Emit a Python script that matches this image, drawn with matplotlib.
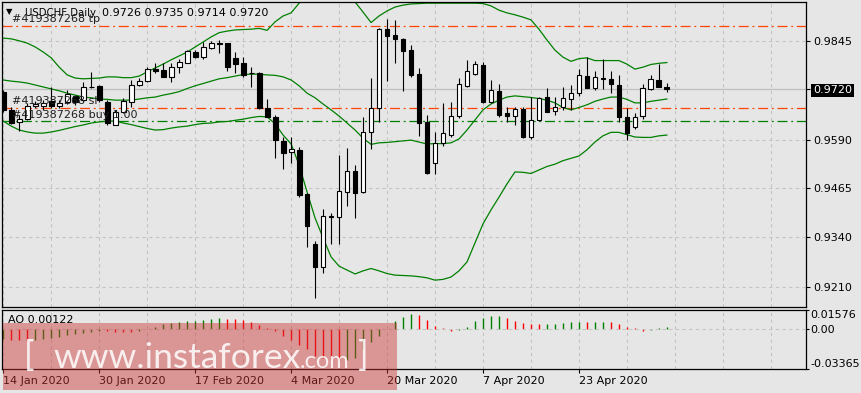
import numpy as np
import matplotlib

matplotlib.use("Agg")
import matplotlib.pyplot as plt
from matplotlib.patches import Rectangle

# USDCHF daily candles, 14 Jan 2020 .. 8 May 2020 (one value per bar)
opens = [0.9713, 0.9667, 0.9636, 0.9643, 0.9677, 0.9677, 0.9691, 0.9676, 0.9686, 0.9703,
         0.9692, 0.9725, 0.9729, 0.9688, 0.9629, 0.9661, 0.9688, 0.9731, 0.9741, 0.9772,
         0.9770, 0.9752, 0.9777, 0.9789, 0.9817, 0.9803, 0.9826, 0.9839, 0.9839, 0.9800,
         0.9789, 0.9763, 0.9763, 0.9671, 0.9648, 0.9587, 0.9558, 0.9564, 0.9450, 0.9321,
         0.9263, 0.9392, 0.9390, 0.9456, 0.9509, 0.9456, 0.9609, 0.9671, 0.9875, 0.9860,
         0.9849, 0.9821, 0.9759, 0.9636, 0.9531, 0.9581, 0.9602, 0.9651, 0.9729, 0.9759,
         0.9783, 0.9688, 0.9716, 0.9658, 0.9652, 0.9669, 0.9598, 0.9641, 0.9699, 0.9665,
         0.9674, 0.9694, 0.9711, 0.9754, 0.9723, 0.9748, 0.9746, 0.9731, 0.9648, 0.9622,
         0.9652, 0.9722, 0.9744, 0.9726]
highs = [0.9718, 0.9674, 0.9654, 0.9685, 0.9690, 0.9692, 0.9726, 0.9692, 0.9718, 0.9705,
         0.9740, 0.9765, 0.9731, 0.9692, 0.9667, 0.9698, 0.9744, 0.9748, 0.9778, 0.9787,
         0.9787, 0.9787, 0.9797, 0.9821, 0.9821, 0.9841, 0.9845, 0.9847, 0.9840, 0.9817,
         0.9804, 0.9778, 0.9765, 0.9694, 0.9654, 0.9598, 0.9598, 0.9572, 0.9453, 0.9330,
         0.9411, 0.9400, 0.9551, 0.9568, 0.9525, 0.9649, 0.9748, 0.9877, 0.9900, 0.9899,
         0.9851, 0.9834, 0.9774, 0.9654, 0.9611, 0.9684, 0.9688, 0.9748, 0.9796, 0.9794,
         0.9791, 0.9744, 0.9734, 0.9675, 0.9675, 0.9675, 0.9701, 0.9699, 0.9723, 0.9699,
         0.9725, 0.9731, 0.9772, 0.9804, 0.9767, 0.9797, 0.9767, 0.9757, 0.9673, 0.9660,
         0.9733, 0.9757, 0.9785, 0.9735]
lows = [0.9661, 0.9631, 0.9613, 0.9641, 0.9672, 0.9667, 0.9672, 0.9672, 0.9683, 0.9680,
        0.9688, 0.9723, 0.9687, 0.9628, 0.9627, 0.9658, 0.9675, 0.9729, 0.9740, 0.9761,
        0.9751, 0.9740, 0.9761, 0.9787, 0.9800, 0.9797, 0.9823, 0.9814, 0.9768, 0.9763,
        0.9751, 0.9725, 0.9670, 0.9648, 0.9542, 0.9514, 0.9531, 0.9442, 0.9314, 0.9181,
        0.9247, 0.9321, 0.9320, 0.9420, 0.9389, 0.9453, 0.9565, 0.9636, 0.9742, 0.9789,
        0.9716, 0.9751, 0.9600, 0.9502, 0.9501, 0.9575, 0.9598, 0.9645, 0.9725, 0.9757,
        0.9684, 0.9685, 0.9648, 0.9636, 0.9628, 0.9594, 0.9591, 0.9639, 0.9661, 0.9654,
        0.9667, 0.9667, 0.9704, 0.9723, 0.9718, 0.9720, 0.9711, 0.9636, 0.9589, 0.9617,
        0.9643, 0.9718, 0.9725, 0.9714]
closes = [0.9667, 0.9634, 0.9643, 0.9677, 0.9682, 0.9685, 0.9676, 0.9684, 0.9707, 0.9688,
          0.9725, 0.9727, 0.9692, 0.9633, 0.9661, 0.9689, 0.9731, 0.9741, 0.9772, 0.9768,
          0.9752, 0.9777, 0.9791, 0.9819, 0.9803, 0.9828, 0.9839, 0.9838, 0.9778, 0.9784,
          0.9757, 0.9762, 0.9671, 0.9649, 0.9589, 0.9557, 0.9565, 0.9448, 0.9368, 0.9263,
          0.9393, 0.9393, 0.9458, 0.9510, 0.9453, 0.9609, 0.9671, 0.9875, 0.9858, 0.9849,
          0.9820, 0.9757, 0.9634, 0.9503, 0.9581, 0.9607, 0.9650, 0.9733, 0.9767, 0.9785,
          0.9688, 0.9718, 0.9654, 0.9652, 0.9668, 0.9598, 0.9641, 0.9697, 0.9662, 0.9674,
          0.9697, 0.9710, 0.9757, 0.9724, 0.9751, 0.9746, 0.9733, 0.9649, 0.9608, 0.9649,
          0.9723, 0.9746, 0.9727, 0.9720]

# Bollinger bands as shown on the chart
bb_upper = [0.9852, 0.9850, 0.9845, 0.9839, 0.9829, 0.9816, 0.9801, 0.9777, 0.9757, 0.9749,
            0.9747, 0.9748, 0.9749, 0.9752, 0.9752, 0.9750, 0.9750, 0.9754, 0.9765, 0.9775,
            0.9785, 0.9796, 0.9806, 0.9816, 0.9829, 0.9842, 0.9855, 0.9866, 0.9870, 0.9873,
            0.9874, 0.9875, 0.9877, 0.9872, 0.9894, 0.9909, 0.9917, 0.9942, 0.9958, 0.9972,
            0.9983, 0.9988, 0.9982, 0.9962, 0.9945, 0.9919, 0.9892, 0.9909, 0.9922, 0.9932,
            0.9937, 0.9940, 0.9941, 0.9942, 0.9942, 0.9942, 0.9942, 0.9942, 0.9942, 0.9942,
            0.9941, 0.9935, 0.9924, 0.9917, 0.9912, 0.9906, 0.9899, 0.9875, 0.9847, 0.9821,
            0.9803, 0.9792, 0.9799, 0.9801, 0.9794, 0.9794, 0.9794, 0.9794, 0.9785, 0.9772,
            0.9777, 0.9784, 0.9787, 0.9789]
bb_middle = [0.9744, 0.9741, 0.9739, 0.9736, 0.9731, 0.9726, 0.9721, 0.9716, 0.9710, 0.9705,
             0.9700, 0.9698, 0.9695, 0.9694, 0.9692, 0.9692, 0.9692, 0.9695, 0.9698, 0.9700,
             0.9705, 0.9709, 0.9714, 0.9722, 0.9729, 0.9735, 0.9741, 0.9747, 0.9750, 0.9754,
             0.9758, 0.9759, 0.9759, 0.9757, 0.9756, 0.9752, 0.9744, 0.9729, 0.9710, 0.9698,
             0.9682, 0.9667, 0.9651, 0.9633, 0.9615, 0.9594, 0.9578, 0.9582, 0.9583, 0.9585,
             0.9587, 0.9589, 0.9584, 0.9579, 0.9580, 0.9580, 0.9582, 0.9592, 0.9615, 0.9641,
             0.9667, 0.9682, 0.9692, 0.9700, 0.9703, 0.9701, 0.9699, 0.9696, 0.9692, 0.9685,
             0.9673, 0.9667, 0.9673, 0.9680, 0.9689, 0.9695, 0.9700, 0.9700, 0.9694, 0.9685,
             0.9685, 0.9689, 0.9692, 0.9695]
bb_lower = [0.9638, 0.9625, 0.9615, 0.9610, 0.9607, 0.9607, 0.9610, 0.9614, 0.9619, 0.9624,
            0.9628, 0.9633, 0.9636, 0.9638, 0.9638, 0.9633, 0.9629, 0.9624, 0.9619, 0.9615,
            0.9616, 0.9620, 0.9623, 0.9625, 0.9629, 0.9632, 0.9633, 0.9636, 0.9637, 0.9640,
            0.9643, 0.9647, 0.9650, 0.9649, 0.9631, 0.9602, 0.9579, 0.9525, 0.9455, 0.9388,
            0.9337, 0.9288, 0.9264, 0.9254, 0.9244, 0.9252, 0.9258, 0.9252, 0.9245, 0.9241,
            0.9240, 0.9239, 0.9237, 0.9234, 0.9228, 0.9230, 0.9236, 0.9252, 0.9275, 0.9324,
            0.9373, 0.9409, 0.9442, 0.9476, 0.9507, 0.9506, 0.9503, 0.9512, 0.9521, 0.9527,
            0.9536, 0.9542, 0.9548, 0.9564, 0.9584, 0.9600, 0.9609, 0.9609, 0.9603, 0.9597,
            0.9596, 0.9596, 0.9600, 0.9602]

# Awesome Oscillator
ao_values = [-0.0088, -0.0093, -0.0098, -0.0101, -0.0095, -0.0088, -0.0081, -0.0069, -0.0055, -0.0043,
             -0.0035, -0.0029, -0.0022, -0.0024, -0.0026, -0.0027, -0.0029, -0.0017, -0.0004, 0.0014,
             0.0035, 0.0046, 0.0055, 0.0061, 0.0066, 0.0071, 0.0077, 0.0087, 0.0082, 0.0076,
             0.0071, 0.0055, 0.0027, 0.0005, -0.0022, -0.0060, -0.0093, -0.0137, -0.0172, -0.0224,
             -0.0246, -0.0255, -0.0263, -0.0256, -0.0246, -0.0172, -0.0115, -0.0060, -0.0005, 0.0060,
             0.0096, 0.0123, 0.0109, 0.0068, 0.0022, 0.0002, -0.0019, -0.0011, 0.0011, 0.0060,
             0.0087, 0.0104, 0.0106, 0.0087, 0.0060, 0.0046, 0.0038, 0.0036, 0.0038, 0.0040,
             0.0046, 0.0053, 0.0055, 0.0054, 0.0056, 0.0057, 0.0055, 0.0038, 0.0011, 0.0003,
             -0.0016, -0.0013, 0.0004, 0.00122]

date_labels = ["14 Jan 2020", "30 Jan 2020", "17 Feb 2020", "4 Mar 2020",
               "20 Mar 2020", "7 Apr 2020", "23 Apr 2020"]
price_ticks = [0.9845, 0.9720, 0.9590, 0.9465, 0.9340, 0.9210]
ao_ticks = [0.01576, 0.0, -0.03365]
ao_tick_labels = ["0.01576", "0.00", "-0.03365"]

symbol = "USDCHF Daily"
order_id = "#419387268"
tp_level = 0.9884
sl_level = 0.9671
buy_level = 0.9637

W, H = 862, 393
BG = "#e6e6e6"
GRID = "#c4c4c4"
GRID_LS = (0, (3, 3))
ORDER_RED = "#ff4500"
BAND_GREEN = "#008000"

plt.rcParams['font.family'] = ['DejaVu Sans']
plt.rcParams['font.size'] = 8


def fig_xy(x, y):
    # pixel from top-left -> figure fraction
    return x / W, 1 - y / H


fig = plt.figure(figsize=(W / 100, H / 100), dpi=100, facecolor=BG)
ax = fig.add_axes([2 / W, 1 - 307 / H, 804 / W, 305.3 / H], facecolor=BG)
ax_ao = fig.add_axes([2 / W, 1 - 369.3 / H, 804 / W, 59.8 / H], facecolor=BG)

o = np.array(opens)
c = np.array(closes)
idx = np.arange(len(c))

# candles
rising = c >= o
ax.vlines(idx, lows, highs, color="black", lw=0.8, zorder=3)
ax.bar(idx, np.abs(c - o), bottom=np.minimum(o, c), width=0.6,
       color=np.where(rising, "white", "black"), edgecolor="black",
       linewidth=0.8, zorder=4)

# bollinger bands
for band in (bb_upper, bb_middle, bb_lower):
    ax.plot(idx, band, color=BAND_GREEN, lw=0.9, zorder=2.5)

# order levels + current price
dashdot = (0, (8, 3, 1.5, 3))
ax.axhline(tp_level, color=ORDER_RED, lw=0.9, ls=dashdot, zorder=2.2)
ax.axhline(sl_level, color=ORDER_RED, lw=0.9, ls=dashdot, zorder=2.2)
ax.axhline(buy_level, color=BAND_GREEN, lw=0.9, ls=dashdot, zorder=2.2)
ax.axhline(c[-1], color="#c0c0c0", lw=0.9, zorder=1.6)

ax.set_xlim(-0.16, 100.4)
ax.set_ylim(0.91588, 0.99458)
ax.yaxis.tick_right()
ax.set_yticks(price_ticks, [f"{p:.4f}" for p in price_ticks])
ax.set_xticks(range(0, 101, 6))
ax.tick_params(axis="x", length=0, labelbottom=False)
ax.tick_params(axis="y", length=3, width=0.8, pad=2)
ax.grid(True, color=GRID, linestyle=GRID_LS, linewidth=0.8)
for sp in ax.spines.values():
    sp.set_linewidth(0.9)

for lbl in ax.get_yticklabels():
    if lbl.get_text() == f"{c[-1]:.4f}":
        lbl.set_color("white")
        lbl.set_bbox(dict(facecolor="black", edgecolor="none", pad=1.2))

# header and order labels
fig.text(*fig_xy(9.5, 12), "\u25BC", fontsize=6, ha="center", va="center")
fig.text(*fig_xy(25, 12.5), symbol, va="center", fontsize=7.3)
fig.text(*fig_xy(102, 12.5), " ".join(f"{v:.4f}" for v in (o[-1], highs[-1], lows[-1], c[-1])),
         va="center")
fig.text(*fig_xy(12, 19.5), f"{order_id} tp", va="center", color="#202020")
fig.text(*fig_xy(12, 101), f"{order_id} sl", va="center", color="#202020")
fig.text(*fig_xy(12, 114.5), f"{order_id} buy 1.00", va="center", color="#202020")

# AO panel
ao = np.array(ao_values)
ao_up = np.r_[True, np.diff(ao) > 0]
ax_ao.vlines(idx, 0, ao, colors=np.where(ao_up, BAND_GREEN, "#ff0000"), lw=1)
ax_ao.axhline(0, color=GRID, linestyle=GRID_LS, lw=0.8)
ax_ao.set_xlim(-0.16, 100.4)
ax_ao.set_ylim(ao_ticks[-1], ao_ticks[0])
ax_ao.yaxis.tick_right()
ax_ao.set_yticks(ao_ticks, ao_tick_labels)
ax_ao.tick_params(axis="y", length=2, width=0.8, pad=1)
ylbls = ax_ao.get_yticklabels()
ylbls[0].set_va("top")
ylbls[-1].set_va("bottom")
ax_ao.set_xticks(range(0, 12 * len(date_labels), 12), date_labels)
ax_ao.set_xticks(range(6, 101, 6), minor=True)
ax_ao.tick_params(axis="x", which="major", length=3, width=0.8, pad=2)
ax_ao.tick_params(axis="x", which="minor", length=0)
for lbl in ax_ao.get_xticklabels():
    lbl.set_ha("left")
ax_ao.grid(True, axis="x", which="both", color=GRID, linestyle=GRID_LS, linewidth=0.8)
for sp in ax_ao.spines.values():
    sp.set_linewidth(0.9)
fig.text(*fig_xy(8, 320), f"AO {ao[-1]:.5f}", va="center")

# watermark
fig.add_artist(Rectangle(fig_xy(3, 390), 394 / W, 67 / H, transform=fig.transFigure,
                         facecolor=(0.8, 0.2, 0.2), alpha=0.45, edgecolor="none", zorder=10))
wm = dict(color="white", alpha=0.85, family=["Lato", "DejaVu Sans"], zorder=11,
          va="baseline")
fig.text(*fig_xy(24, 366), "[", fontsize=25, **wm)
site = fig.text(*fig_xy(53, 368), "www.instaforex", fontsize=25.5, **wm)
fig.canvas.draw()
site_end = site.get_window_extent().x1
com = fig.text(site_end / W, 1 - 368 / H, ".com", fontsize=17, **wm)
fig.canvas.draw()
fig.text((com.get_window_extent().x1 + 8) / W, 1 - 366 / H, "]", fontsize=25, **wm)

fig.savefig("out.png", dpi=100, facecolor=BG)
